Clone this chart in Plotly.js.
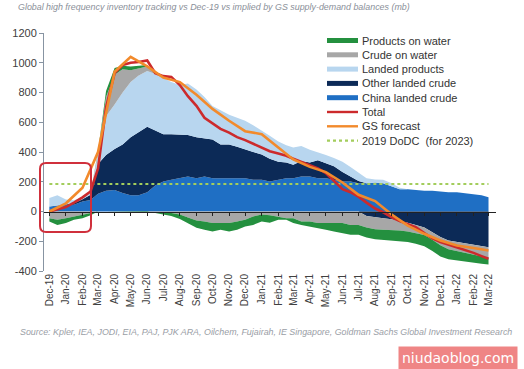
<!DOCTYPE html>
<html>
<head>
<meta charset="utf-8">
<script src="https://cdn.plot.ly/plotly-3.0.1.min.js"></script>
<style>html,body{margin:0;padding:0;background:#fff;}#chart{width:524px;height:369px;}</style>
</head>
<body>
<div id="chart"></div>
<script>
// ---- data (mb, vs Dec-19), semi-monthly readings ----
const dates = ['2019-12-01','2019-12-16',
'2020-01-01','2020-01-16','2020-02-01','2020-02-16','2020-03-01','2020-03-16','2020-04-01','2020-04-16',
'2020-05-01','2020-05-16','2020-06-01','2020-06-16','2020-07-01','2020-07-16','2020-08-01','2020-08-16',
'2020-09-01','2020-09-16','2020-10-01','2020-10-16','2020-11-01','2020-11-16','2020-12-01','2020-12-16',
'2021-01-01','2021-01-16','2021-02-01','2021-02-16','2021-03-01','2021-03-16','2021-04-01','2021-04-16',
'2021-05-01','2021-05-16','2021-06-01','2021-06-16','2021-07-01','2021-07-16','2021-08-01','2021-08-16',
'2021-09-01','2021-09-16','2021-10-01','2021-10-16','2021-11-01','2021-11-16','2021-12-01','2021-12-16',
'2022-01-01','2022-01-16','2022-02-01','2022-02-16','2022-03-01'];

const chinaLandedCrude = [34,40,45,45,67,78,120,140,145,125,110,110,130,175,202,213,224,235,224,235,224,224,224,224,224,213,
  213,202,213,224,224,235,235,224,224,213,202,202,190,190,195,190,170,150,150,145,140,140,135,130,130,125,120,110,95];
const otherLandedCrude = [0,0,5,10,15,34,200,240,275,325,390,425,440,370,318,307,296,280,276,255,260,226,226,211,196,187,
  170,153,122,106,91,105,95,121,101,92,63,33,15,-30,-40,-45,-52,-62,-75,-90,-108,-140,-172,-195,-205,-212,-222,-230,-240];
const landedProducts = [56,70,30,20,15,10,60,260,300,350,370,380,375,380,375,350,330,345,320,280,226,230,200,195,190,180,
  162,155,135,115,115,100,85,55,55,55,70,65,55,34,20,23,20,10,0,0,0,0,0,0,0,0,0,0,0];
const crudeOnWater = [-45,-56,-45,-34,-22,-11,20,130,200,157,80,45,30,0,-5,-10,-20,-40,-60,-67,-78,-78,-78,-67,-56,-34,
  -20,-25,-34,-45,-45,-67,-67,-78,-78,-78,-78,-90,-90,-78,-80,-78,-72,-65,-60,-55,-50,-50,-55,-58,-60,-62,-68,-72,-72];
const productsOnWater = [-22,-34,-33,-22,-23,-14,5,40,45,22,25,20,10,-10,-15,-20,-30,-40,-50,-56,-56,-45,-56,-56,-44,-56,
  -47,-50,-22,-10,-33,-23,-33,-34,-45,-56,-68,-67,-67,-67,-67,-68,-70,-72,-70,-72,-75,-75,-75,-68,-65,-62,-55,-50,-45];
const total = [0,15,30,60,95,135,290,700,930,985,1000,1005,1015,930,910,905,850,775,710,630,590,555,530,500,480,455,
  430,405,390,375,355,335,315,290,258,205,150,130,100,60,20,-5,-40,-65,-85,-105,-145,-180,-205,-222,-240,-260,-278,-300,-318];

const forecastDates = ['2019-12-01','2020-01-01','2020-02-01','2020-03-01','2020-04-01','2020-05-01','2020-06-01',
'2020-07-01','2020-08-01','2020-09-01','2020-10-01','2020-11-01','2020-12-01','2021-01-01','2021-02-01','2021-03-01',
'2021-04-01','2021-05-01','2021-06-01','2021-07-01','2021-08-01','2021-09-01','2021-10-01','2021-11-01','2021-12-01',
'2022-01-01','2022-02-01','2022-03-01'];
const gsForecast = [0,55,160,400,940,1040,975,900,870,785,690,610,540,520,430,350,300,265,195,112,70,-20,-95,-150,-195,-228,-245,-262];

const dodcDates = ['2019-12-01','2022-03-01'];
const dodc2019 = [185,185];

const yTicks = [-400,-200,0,200,400,600,800,1000,1200];

// ---- styling ----
const names = ['China landed crude','Other landed crude','Landed products','Crude on water','Products on water'];
const series = [chinaLandedCrude, otherLandedCrude, landedProducts, crudeOnWater, productsOnWater];
const colors = ['#1f6fc4','#0c2a57','#b8d6ef','#a7a7a7','#24903f'];
const RED = '#cc2a2c', ORANGE = '#f28a2c', GREEN_DOT = '#a3cd5c';

const traces = [];
// positive parts stack upward, negative parts stack downward (same order)
['pos', 'neg'].forEach(group => {
  series.forEach((s, i) => {
    traces.push({
      type: 'scatter', mode: 'lines', x: dates,
      y: s.map(v => group === 'pos' ? Math.max(v, 0) : Math.min(v, 0)),
      stackgroup: group, name: names[i],
      line: {width: 0, color: colors[i]}, fillcolor: colors[i],
      showlegend: false, xaxis: 'x', yaxis: 'y'
    });
  });
});
traces.push({type: 'scatter', mode: 'lines', x: dodcDates, y: dodc2019, name: '2019 DoDC (for 2023)',
  line: {color: GREEN_DOT, width: 2.2, dash: 'dot'}, xaxis: 'x2', yaxis: 'y', showlegend: false});
traces.push({type: 'scatter', mode: 'lines', x: dates, y: total, name: 'Total',
  line: {color: RED, width: 2.6}, xaxis: 'x2', yaxis: 'y', showlegend: false});
traces.push({type: 'scatter', mode: 'lines', x: forecastDates, y: gsForecast, name: 'GS forecast',
  line: {color: ORANGE, width: 2.6}, xaxis: 'x2', yaxis: 'y', showlegend: false});

// plot area geometry (px)
const L = 44, R = 28, T = 33, B = 98, W = 524, H = 369;
const PW = W - L - R, PH = H - T - B;
const px = x => (x - L) / PW;
const py = y => (H - B - y) / PH;
const xRange = ['2019-11-21', '2022-03-15'];
const FONT = 'Liberation Sans, Arial, sans-serif';
const yRange = [-400, 1200];
const zeroPos = (0 - yRange[0]) / (yRange[1] - yRange[0]);

// custom legend
const legNames = ['Products on water','Crude on water','Landed products','Other landed crude','China landed crude','Total','GS forecast','2019 DoDC\u00a0 (for 2023)'];
const legColors = ['#24903f','#a7a7a7','#b8d6ef','#0c2a57','#1f6fc4',RED,ORANGE,GREEN_DOT];
const legWidths = [5,5,5,5,5,2.4,2.4,2.2];
const legDash = ['solid','solid','solid','solid','solid','solid','solid','dot'];
const shapes = [];
const annotations = [];
legNames.forEach((n, i) => {
  const yy = 40.5 + i * 14.3;
  shapes.push({type: 'line', xref: 'paper', yref: 'paper', x0: px(327), x1: px(358), y0: py(yy), y1: py(yy),
    line: {color: legColors[i], width: legWidths[i], dash: legDash[i]}});
  annotations.push({xref: 'paper', yref: 'paper', x: px(360), y: py(yy), xanchor: 'left', yanchor: 'middle',
    text: n, showarrow: false, font: {family: FONT, size: 11, color: '#333333'}});
});

// red rounded highlight box
const bx0 = px(40), bx1 = px(91), by0 = py(232), by1 = py(163);
const rx = 6 / PW, ry = 6 / PH;
shapes.push({type: 'path', xref: 'paper', yref: 'paper', layer: 'above',
  path: `M ${bx0+rx} ${by0} L ${bx1-rx} ${by0} Q ${bx1} ${by0} ${bx1} ${by0+ry} L ${bx1} ${by1-ry} Q ${bx1} ${by1} ${bx1-rx} ${by1} L ${bx0+rx} ${by1} Q ${bx0} ${by1} ${bx0} ${by1-ry} L ${bx0} ${by0+ry} Q ${bx0} ${by0} ${bx0+rx} ${by0} Z`,
  line: {color: '#d0303c', width: 2}, fillcolor: 'rgba(0,0,0,0)'});

annotations.push({xref: 'paper', yref: 'paper', x: px(18), y: py(332), xanchor: 'left', yanchor: 'middle', showarrow: false,
  text: 'Source: Kpler, IEA, JODI, EIA, PAJ, PJK ARA, Oilchem, Fujairah, IE Singapore, Goldman Sachs Global Investment Research',
  font: {family: FONT, size: 8.9, style: 'italic', color: '#9a9ea6'}});
annotations.push({xref: 'paper', yref: 'paper', x: px(518), y: py(346), xanchor: 'right', yanchor: 'top', showarrow: false,
  text: 'niudaoblog.com', bgcolor: '#ef8585', borderpad: 3,
  font: {family: 'DejaVu Sans, sans-serif', size: 14, color: '#ffffff'}});

const layout = {
  width: W, height: H,
  margin: {l: L, r: R, t: T, b: B, pad: 0},
  paper_bgcolor: '#ffffff', plot_bgcolor: '#ffffff',
  showlegend: false,
  title: {text: 'Global high frequency inventory tracking vs Dec-19 vs implied by GS supply-demand balances (mb)',
    x: 18 / W, xanchor: 'left', y: 1 - 7 / H, yanchor: 'middle', xref: 'container', yref: 'container',
    font: {family: FONT, size: 8.9, style: 'italic', color: '#8a8f99'}},
  // main x axis: drawn on the zero line with month ticks, above the areas
  xaxis: {type: 'date', range: xRange, anchor: 'free', position: zeroPos, tickmode: 'linear',
    tick0: '2019-12-01', dtick: 'M1', ticks: 'outside', ticklen: 3, tickcolor: '#222222', tickwidth: 1,
    showticklabels: false, showline: true, linecolor: '#222222', linewidth: 1, showgrid: false, zeroline: false,
    layer: 'above traces'},
  // overlay x axis: month labels at the bottom
  xaxis2: {type: 'date', range: xRange, overlaying: 'x', anchor: 'y', side: 'bottom', tickmode: 'linear',
    tick0: '2019-12-01', dtick: 'M1', tickformat: '%b-%y', tickangle: -90, ticks: '', showline: false,
    showgrid: false, zeroline: false, tickfont: {family: FONT, size: 10, color: '#404040'}},
  yaxis: {range: yRange, tickmode: 'array', tickvals: yTicks, ticktext: yTicks.map(String), ticks: 'outside', ticklen: 4,
    tickcolor: '#8794a2', showline: true, linecolor: '#8794a2', linewidth: 1, showgrid: false, zeroline: false,
    tickfont: {family: FONT, size: 11, color: '#404040'}},
  shapes: shapes,
  annotations: annotations
};

Plotly.newPlot('chart', traces, layout, {displayModeBar: false, staticPlot: true});
</script>
</body>
</html>
